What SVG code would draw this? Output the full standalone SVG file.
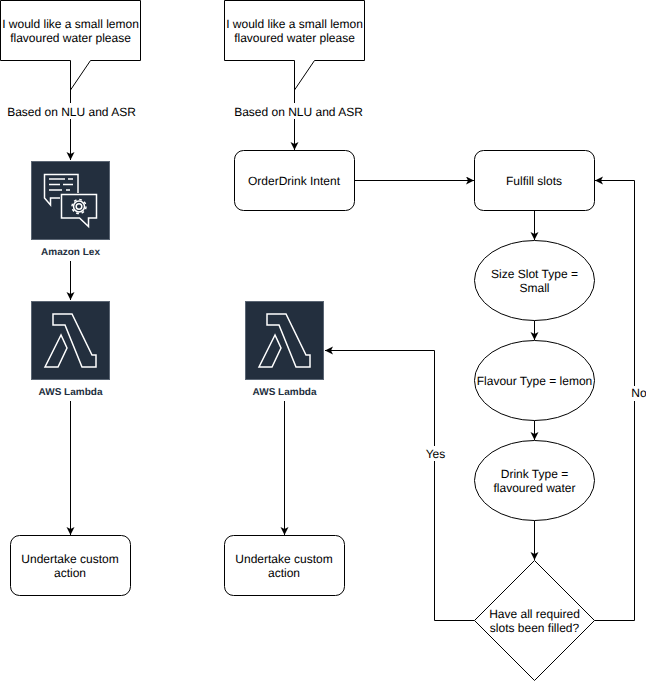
<svg xmlns="http://www.w3.org/2000/svg" width="646" height="681" viewBox="0 0 646 681">
<style>
text{font-family:"Liberation Sans",Arial,sans-serif;font-size:12px;fill:#000;text-anchor:middle;text-rendering:geometricPrecision}
.s{fill:#fff;stroke:#000;stroke-width:1}
.c{fill:none;stroke:#000;stroke-width:1}
.i{fill:#232f3e;stroke:#5a6573;stroke-width:1}
.g{fill:none;stroke:#fff;stroke-width:1.500;stroke-linejoin:miter}
.l{font-size:10px;font-weight:bold;fill:#232f3e}
.bg{fill:#fff;stroke:none}
</style>
<defs>
<marker id="a" markerUnits="userSpaceOnUse" markerWidth="10" markerHeight="10" refX="8" refY="4" orient="auto">
<path d="M0 0L8 4L0 8L2 4Z" fill="#000"/>
</marker>
<g id="lam">
<rect class="i" x="0" y="0" width="78" height="78"/>
<path class="g" d="M21.500 12.500H40.500L60.500 53.500H64.500V65.500H50.500L33.500 23.500H21.500Z"/>
<path class="g" d="M29.500 33.500L13.500 65.500H26.500L35.500 46.500Z"/>
</g>
</defs>
<rect width="646" height="681" fill="#fff"/>
<g id="connectors">
<path class="c" d="M70.500 90V160" marker-end="url(#a)"/>
<path class="c" d="M70.500 261V300" marker-end="url(#a)"/>
<path class="c" d="M70.500 401V535" marker-end="url(#a)"/>
<path class="c" d="M294.500 90V150" marker-end="url(#a)"/>
<path class="c" d="M354.500 180.500H474" marker-end="url(#a)"/>
<path class="c" d="M534.500 210.500V240" marker-end="url(#a)"/>
<path class="c" d="M534.500 320.500V340" marker-end="url(#a)"/>
<path class="c" d="M534.500 420.500V440" marker-end="url(#a)"/>
<path class="c" d="M534.500 520.500V560" marker-end="url(#a)"/>
<path class="c" d="M474.500 620.500H434.500V350.500H325" marker-end="url(#a)"/>
<path class="c" d="M594.500 620.500H634.500V180.500H595" marker-end="url(#a)"/>
<path class="c" d="M284.500 401V535" marker-end="url(#a)"/>
</g>
<g id="label-nlu-1"><rect class="bg" x="6" y="103" width="130" height="16"/><text x="71.500" y="116">Based on NLU and ASR</text></g>
<g id="label-nlu-2"><rect class="bg" x="233" y="103" width="130" height="16"/><text x="298.500" y="116">Based on NLU and ASR</text></g>
<g id="label-yes"><rect class="bg" x="425" y="446" width="20" height="15"/><text x="435.500" y="458">Yes</text></g>
<g id="label-no"><rect class="bg" x="630" y="386" width="18" height="15"/><text x="639" y="397">No</text></g>
<g id="callout-1">
<path class="s" d="M0.500 0.500H140.500V60.500H90.500L70.500 90V60.500H0.500Z"/>
<text x="70.500" y="28">I would like a small lemon</text><text x="70.500" y="42">flavoured water please</text>
</g>
<g id="callout-2">
<path class="s" d="M224.500 0.500H364.500V60.500H314.500L294.500 90V60.500H224.500Z"/>
<text x="294.500" y="28">I would like a small lemon</text><text x="294.500" y="42">flavoured water please</text>
</g>
<g id="amazon-lex">
<rect class="i" x="31.500" y="161.500" width="78" height="78"/>
<path class="g" d="M60 198H50.500V205L44.500 198V174.500H78V193"/>
<path class="g" d="M49 179H65M68 179H73M49 184.500H60M63 184.500H73M49 190H62M66 190H70" stroke-width="1.300"/>
<path class="g" d="M61.500 194.500H96.500V218H88.500V226.500L79.500 218H61.500Z"/>
<circle class="g" cx="79" cy="206.500" r="2.800"/>
<circle class="g" cx="79" cy="206.500" r="5.500"/>
<circle class="g" cx="79" cy="206.500" r="7" stroke-dasharray="2.700 2.800" stroke-width="2"/>
<text class="l" x="70.500" y="255">Amazon Lex</text>
</g>
<g id="lambda-1">
<use href="#lam" x="31.500" y="301.500"/>
<text class="l" x="70.500" y="395">AWS Lambda</text>
</g>
<g id="lambda-2">
<use href="#lam" x="245.500" y="301.500"/>
<text class="l" x="284.500" y="395">AWS Lambda</text>
</g>
<g id="action-1">
<rect class="s" x="10.500" y="535.500" width="120" height="60" rx="9" ry="9"/>
<text x="70" y="563">Undertake custom</text><text x="70" y="577">action</text>
</g>
<g id="action-2">
<rect class="s" x="224.500" y="535.500" width="120" height="60" rx="9" ry="9"/>
<text x="284" y="563">Undertake custom</text><text x="284" y="577">action</text>
</g>
<g id="intent">
<rect class="s" x="234.500" y="150.500" width="120" height="60" rx="9" ry="9"/>
<text x="294" y="185">OrderDrink Intent</text>
</g>
<g id="fulfill">
<rect class="s" x="474.500" y="150.500" width="120" height="60" rx="9" ry="9"/>
<text x="534" y="185">Fulfill slots</text>
</g>
<g id="size">
<ellipse class="s" cx="534.500" cy="280.500" rx="60" ry="40"/>
<text x="534.500" y="278">Size Slot Type =</text><text x="534.500" y="292">Small</text>
</g>
<g id="flavour">
<ellipse class="s" cx="534.500" cy="380.500" rx="60" ry="40"/>
<text x="534.500" y="385">Flavour Type = lemon</text>
</g>
<g id="drink">
<ellipse class="s" cx="534.500" cy="480.500" rx="60" ry="40"/>
<text x="534.500" y="478">Drink Type =</text><text x="534.500" y="492">flavoured water</text>
</g>
<g id="decision">
<path class="s" d="M534.500 560.500L594.500 620.500L534.500 680.500L474.500 620.500Z"/>
<text x="534.500" y="618">Have all required</text><text x="534.500" y="632">slots been filled?</text>
</g>
</svg>
